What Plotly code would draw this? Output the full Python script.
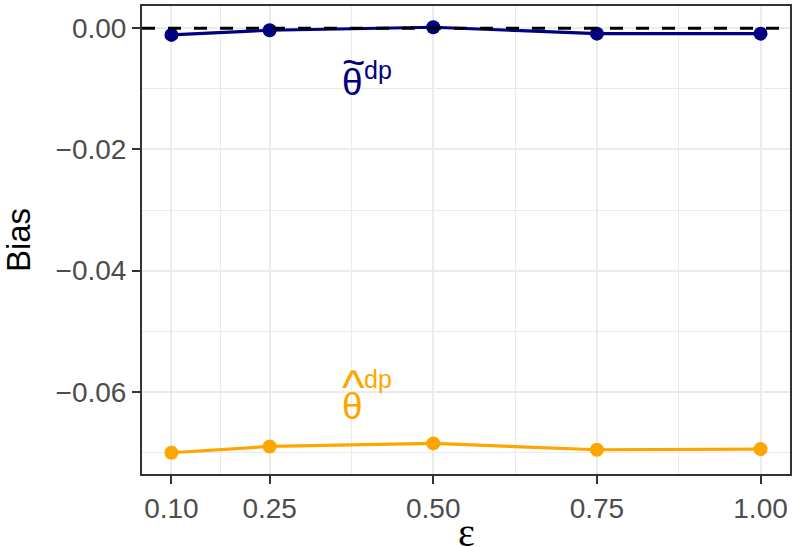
import plotly.graph_objects as go

# ---- data ----
epsilon = [0.10, 0.25, 0.50, 0.75, 1.00]
bias_tilde = [-0.0011, -0.00033, 0.00016, -0.00089, -0.00089]
bias_hat = [-0.07005, -0.06901, -0.06851, -0.06956, -0.06945]
x_ticks = [0.10, 0.25, 0.50, 0.75, 1.00]
x_ticklabels = ["0.10", "0.25", "0.50", "0.75", "1.00"]
x_minor = [0.175, 0.375, 0.625, 0.875]
y_ticks = [0.00, -0.02, -0.04, -0.06]
y_ticklabels = ["0.00", "\u22120.02", "\u22120.04", "\u22120.06"]
y_minor = [-0.01, -0.03, -0.05, -0.07]
ref_line = 0.0
label_x = 0.4
label_tilde_y = -0.008
label_hat_y = -0.06

NAVY = "#000080"
ORANGE = "#FFA500"
FONT = "Liberation Sans, Arial, sans-serif"

# ggplot-like 5% expansion
xmin, xmax = min(epsilon), max(epsilon)
xr = xmax - xmin
allv = bias_tilde + bias_hat + [ref_line]
ymin, ymax = min(allv), max(allv)
yr = ymax - ymin

fig = go.Figure()
for vals, col in [(bias_tilde, NAVY), (bias_hat, ORANGE)]:
    fig.add_trace(go.Scatter(x=epsilon, y=vals, mode="lines+markers",
                             line=dict(color=col, width=3.2),
                             marker=dict(color=col, size=14),
                             showlegend=False, hoverinfo="skip"))

fig.add_hline(y=ref_line, line=dict(color="black", width=3, dash="13px,13px"), layer="above")

def lab(x, y, text, color, size, dx, dy, family=FONT):
    fig.add_annotation(x=x, y=y, xref="x", yref="y", text=text, showarrow=False,
                       font=dict(family=family, size=size, color=color),
                       xshift=dx, yshift=dy, xanchor="center", yanchor="middle")

# theta tilde ^dp
lab(label_x, label_tilde_y, "\u03b8", NAVY, 37, -15, -6)
lab(label_x, label_tilde_y, "~", NAVY, 40, -14, 15)
lab(label_x, label_tilde_y, "dp", NAVY, 25, 10, 7)
# theta hat ^dp
lab(label_x, label_hat_y, "\u03b8", ORANGE, 37, -15, -15)
lab(label_x, label_hat_y, "^", ORANGE, 48, -14, 4)
lab(label_x, label_hat_y, "dp", ORANGE, 25, 10, 13)

# x-axis title (epsilon)
fig.add_annotation(x=0.5, y=-0.125, xref="paper", yref="paper", text="\u03b5",
                   showarrow=False, xanchor="center", yanchor="middle",
                   font=dict(family="Liberation Serif, serif", size=40, color="black"))

axis_common = dict(showline=True, mirror=True, linecolor="#333333", linewidth=2,
                   ticks="outside", ticklen=8, tickwidth=2, tickcolor="#333333",
                   tickfont=dict(family=FONT, size=28, color="#4D4D4D"),
                   showgrid=True, gridcolor="#EBEBEB", gridwidth=2.4,
                   zeroline=False, automargin=False)

fig.update_xaxes(range=[xmin - 0.05 * xr, xmax + 0.05 * xr],
                 tickvals=x_ticks, ticktext=x_ticklabels,
                 minor=dict(tickvals=x_minor, showgrid=True, gridcolor="#EBEBEB",
                            gridwidth=1.3, ticks=""),
                 **axis_common)
fig.update_yaxes(range=[ymin - 0.05 * yr, ymax + 0.05 * yr],
                 tickvals=y_ticks, ticktext=y_ticklabels,
                 minor=dict(tickvals=y_minor, showgrid=True, gridcolor="#EBEBEB",
                            gridwidth=1.3, ticks=""),
                 title=dict(text="Bias", font=dict(family=FONT, size=33, color="black"),
                            standoff=15),
                 **axis_common)

fig.update_layout(width=792, height=547, plot_bgcolor="white", paper_bgcolor="white",
                  margin=dict(l=142, r=2, t=6, b=73))

fig.write_html("out.html")
